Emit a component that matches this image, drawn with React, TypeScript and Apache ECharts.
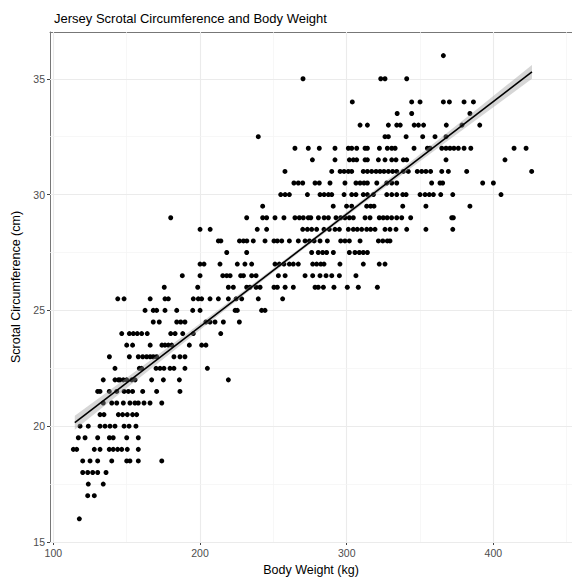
import React, { useEffect, useRef } from "react";
import * as echarts from "echarts";

// Scrotal circumference levels (cm) and body weights (kg) of the bulls at each level
const yLevels = [36, 35, 34, 33.5, 33, 32.5, 32, 31.5, 31, 30.5, 30, 29.5, 29, 28.5, 28, 27.5, 27, 26.5, 26, 25.5, 25, 24.5, 24, 23.5, 23, 22.5, 22, 21.5, 21, 20.5, 20, 19.5, 19, 18.5, 18, 17.5, 17, 16];
const weightsByLevel = [
  [365.9],
  [270.2, 323.2, 326.1, 340.9],
  [303.8, 344.3, 350, 365.9, 370, 380, 386.4],
  [334.4, 344.3, 384],
  [309.1, 314.1, 328.4, 334.1, 336.5, 346, 348.9, 352.4, 367.9, 378.6, 390.7],
  [239.7, 326.1, 328.4, 340.5, 351.8, 360.2, 367.7],
  [264.7, 273.8, 281.3, 292, 301.1, 303.4, 306.8, 312.5, 314.1, 322.3, 327.7, 330.7, 333, 345.9, 355, 356.8, 364.8, 367.7, 370.4, 373.1, 376.1, 380, 384.6, 414.1, 422.3],
  [276.6, 292, 301.8, 304.5, 306.8, 312.5, 314.1, 321.6, 326.1, 330.7, 333.6, 338.6, 340.9, 367.7, 407.9],
  [257.9, 289.8, 295.5, 298.2, 301.1, 303.4, 311.3, 314.1, 317, 320, 322.7, 325.4, 328.4, 331.3, 334.1, 338.6, 342, 348.1, 351.1, 354, 357.2, 364.8, 369.3, 381.8, 426.1],
  [264, 267, 270, 278.4, 281.3, 288.6, 298.8, 306.3, 309.1, 311.8, 314.1, 320.5, 327.3, 330.7, 334.1, 357.9, 363.6, 365.4, 392.7, 400],
  [255, 258, 260.9, 273.2, 281.8, 284.6, 287.5, 289.8, 298.2, 303.4, 306.3, 311.3, 314.1, 318.2, 327.3, 330.7, 334.1, 338.2, 340.5, 350, 353.4, 356.3, 359.1, 364.1, 372.3, 405.2],
  [242.7, 290.8, 299.9, 303.4, 313.6, 316.3, 318.6, 338.2, 354, 384],
  [180, 231.8, 242.7, 245.4, 251.1, 257.2, 264.7, 267.7, 270.4, 273.8, 275.5, 280.7, 284.6, 287.5, 292.7, 295.9, 298.8, 301.8, 304.5, 312.5, 315.9, 322.2, 324.9, 327.6, 330.6, 334.1, 337.5, 343.6, 371.6, 372.7],
  [200, 206.9, 239, 245.4, 270, 273.2, 276.1, 279.5, 284.5, 288.1, 292, 295, 301.1, 304.5, 307.2, 310.2, 313.6, 316.3, 319.3, 326.1, 329.5, 333.6, 340.9, 354, 372.3],
  [212.5, 214.2, 226.9, 229.6, 231.9, 236.3, 244.3, 250.4, 252.7, 255.7, 260.9, 267, 271.6, 274.6, 277.8, 281.8, 286.8, 295.9, 298.8, 301.8, 309.1, 321.6, 324.6, 327.7, 329.5],
  [218.2, 231.8, 276.1, 280.6, 283.6, 286.3, 290.9, 301.8, 305.6, 308.6, 311.3, 314.1],
  [200, 202.7, 213.6, 225.4, 230.6, 235.2, 251.1, 254, 257.2, 260.9, 263.6, 267, 276.8, 279.5, 282.3, 284.5, 295.4, 311.3, 322.2, 326.1],
  [187.9, 200, 215.5, 218.2, 220.5, 227.7, 229.6, 235.2, 238.2, 253.4, 258, 271.6, 276.8, 281.8, 285.9, 289.8, 295, 306.3],
  [175.6, 198.4, 219.3, 222.7, 231.8, 234, 238.2, 240.9, 250.4, 252.7, 258, 263.6, 278.4, 280.6, 284.1, 291.3, 300.4, 307.9, 320.9],
  [143.9, 148.2, 166, 176.1, 178.4, 195.4, 198.8, 201.1, 206.8, 212.5, 219.3, 224.6, 228.4, 239.7, 256.3],
  [162.5, 168.1, 170.4, 176.1, 184.1, 195, 200, 223.9, 225.4, 242, 244.3],
  [168.1, 172.2, 184.1, 186.8, 189.7, 204, 206.8, 210.2, 215.9, 226.8],
  [146.6, 151.8, 154.5, 157.2, 160.2, 164, 180, 183, 188.2, 195.4, 214.1],
  [150, 154, 166, 174, 176.1, 178.4, 180.7, 192.7, 201.1, 204],
  [138.2, 151.8, 157.9, 160.9, 163.6, 166, 168.1, 170.4, 182.2, 186.3, 189.7],
  [142, 158.6, 160.2, 170, 172.7, 175.4, 179.5, 182.2, 189.7, 205],
  [134, 142, 144.3, 145.4, 147.7, 150, 153.4, 155.7, 167, 175, 185.9, 219.3],
  [130.2, 131.8, 138.1, 143.2, 148.2, 151.1, 154, 160.9, 170.4, 186.3],
  [134, 139.8, 143.2, 147.7, 152.2, 155.6, 157.9, 161.8, 165.9, 173.9],
  [131.8, 134.5, 144.3, 147.2, 150.4, 154, 156.8],
  [118.2, 123.8, 131.8, 135.2, 138.6, 142, 148.2, 151.6, 156.3],
  [117, 121.6, 130.2, 138.2, 140.8, 150, 157.9],
  [113.6, 115.9, 127.9, 131.8, 138.1, 140.8, 143.8, 146.6, 150.4, 157.9],
  [120, 125, 130.2, 139.8, 150, 152.2, 157.9, 173.9],
  [120, 123.4, 126.8, 130.2, 135.9],
  [123.8, 134],
  [123.4, 127.9],
  [117.7],
];

// Fitted regression line and its confidence band
const fitX = [114.6, 426.3];
const fitY = [20.15, 35.3];
const bandX = [114.6, 150, 190, 230, 270, 310, 350, 390, 426.3];
const bandLower = [19.85, 21.65, 23.66, 25.66, 27.62, 29.55, 31.44, 33.31, 35.0];
const bandUpper = [20.45, 22.09, 23.96, 25.86, 27.78, 29.75, 31.74, 33.75, 35.6];

// Axis ticks and grid lines
const xTickValues = [100, 200, 300, 400];
const yTickValues = [15, 20, 25, 30, 35];
const xMinorGrid = [150, 250, 350, 450];
const yMinorGrid = [17.5, 22.5, 27.5, 32.5];

const FONT = "'Liberation Sans', Arial, sans-serif";

export default function App() {
  const ref = useRef<HTMLDivElement>(null);
  useEffect(() => {
    if (!ref.current) return;
    const chart = echarts.init(ref.current, null, { renderer: "svg" });

    const points: number[][] = [];
    yLevels.forEach((y, i) => {
      weightsByLevel[i].forEach((x) => points.push([x, y]));
    });

    const major = { color: "#EBEBEB", width: 1.1, type: "solid" };
    const minor = { color: "#F3F3F3", width: 0.7, type: "solid" };
    const gridLines: any[] = [
      ...xTickValues.map((v) => ({ xAxis: v, lineStyle: major })),
      ...xMinorGrid.map((v) => ({ xAxis: v, lineStyle: minor })),
      ...yTickValues.map((v) => ({ yAxis: v, lineStyle: major })),
      ...yMinorGrid.map((v) => ({ yAxis: v, lineStyle: minor })),
    ];

    const xMin = 97.7;
    const xMax = 453.6;
    const yMin = 15;
    const yMax = 37.02;

    chart.setOption({
      animation: false,
      title: {
        text: "Jersey Scrotal Circumference and Body Weight",
        left: 49,
        top: 7,
        textStyle: { fontFamily: FONT, fontSize: 13, fontWeight: "normal", color: "#000" },
      },
      grid: { left: 50, right: 0, top: 32, bottom: 36, containLabel: false },
      xAxis: [
        {
          type: "value",
          min: xMin,
          max: xMax,
          position: "bottom",
          name: "Body Weight (kg)",
          nameLocation: "middle",
          nameGap: 21,
          nameTextStyle: { fontFamily: FONT, fontSize: 12.5, color: "#000" },
          axisLine: { show: true, lineStyle: { color: "#444", width: 1 } },
          axisTick: { show: true, length: 3, customValues: xTickValues, lineStyle: { color: "#444" } },
          axisLabel: { show: true, customValues: xTickValues, margin: 5, fontFamily: FONT, fontSize: 10.5, color: "#4D4D4D" },
          splitLine: { show: false },
        },
        {
          type: "value",
          min: xMin,
          max: xMax,
          position: "top",
          axisLine: { show: true, lineStyle: { color: "#777", width: 1 } },
          axisTick: { show: false },
          axisLabel: { show: false },
          splitLine: { show: false },
        },
      ],
      yAxis: {
        type: "value",
        min: yMin,
        max: yMax,
        name: "Scrotal Circumference (cm)",
        nameLocation: "middle",
        nameGap: 25,
        nameTextStyle: { fontFamily: FONT, fontSize: 12.5, color: "#000" },
        axisLine: { show: true, lineStyle: { color: "#777", width: 1 } },
        axisTick: { show: true, length: 3, customValues: yTickValues, lineStyle: { color: "#444" } },
        axisLabel: { show: true, customValues: yTickValues, margin: 5, fontFamily: FONT, fontSize: 10.5, color: "#4D4D4D" },
        splitLine: { show: false },
      },
      series: [
        {
          type: "line",
          z: 1,
          data: [[xTickValues[0], yTickValues[0]]],
          symbol: "none",
          lineStyle: { opacity: 0 },
          silent: true,
          markLine: {
            silent: true,
            z: 1,
            symbol: ["none", "none"],
            label: { show: false },
            data: gridLines,
          },
        },
        {
          type: "scatter",
          z: 3,
          data: points,
          symbol: "circle",
          symbolSize: 5,
          itemStyle: { color: "#000", opacity: 1 },
          silent: true,
        },
        {
          type: "custom",
          z: 4,
          data: [[bandX[0], bandLower[0]]],
          silent: true,
          renderItem: (params: any, api: any) => {
            const pts: number[][] = [];
            bandX.forEach((x, i) => pts.push(api.coord([x, bandUpper[i]])));
            for (let i = bandX.length - 1; i >= 0; i--) pts.push(api.coord([bandX[i], bandLower[i]]));
            return {
              type: "polygon",
              shape: { points: pts },
              style: { fill: "rgba(153,153,153,0.4)", stroke: "none" },
            };
          },
        },
        {
          type: "line",
          z: 5,
          data: fitX.map((x, i) => [x, fitY[i]]),
          symbol: "none",
          lineStyle: { color: "#000", width: 1.6 },
          silent: true,
        },
      ],
    });
    return () => chart.dispose();
  }, []);
  return (
    <div
      ref={ref}
      style={{ position: "absolute", left: 0, top: 0, width: 572, height: 581, background: "#fff" }}
    />
  );
}
